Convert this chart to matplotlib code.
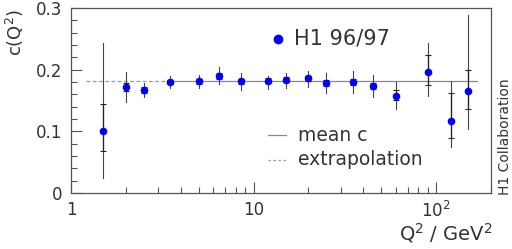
import matplotlib.pyplot as plt

plt.rcParams['font.family'] = ['DejaVu Sans']
plt.rcParams['mathtext.fontset'] = 'dejavusans'

# data
q2 = [1.5, 2.0, 2.5, 3.5, 5.0, 6.5, 8.5, 12, 15, 20, 25, 35, 45, 60, 90, 120, 150]
c = [0.100, 0.172, 0.167, 0.180, 0.181, 0.190, 0.181, 0.182, 0.184, 0.186,
     0.178, 0.180, 0.1735, 0.158, 0.197, 0.117, 0.166]
tot_hi = [0.243, 0.196, 0.179, 0.190, 0.192, 0.204, 0.195, 0.190, 0.195, 0.198,
          0.195, 0.198, 0.192, 0.180, 0.243, 0.182, 0.288]
tot_lo = [0.024, 0.148, 0.155, 0.171, 0.170, 0.176, 0.167, 0.169, 0.170, 0.172,
          0.162, 0.162, 0.155, 0.136, 0.157, 0.074, 0.104]
stat_hi = [0.145, 0.178, 0.172, 0.184, 0.185, 0.195, 0.185, 0.186, 0.188, 0.190,
           0.183, 0.185, 0.178, 0.167, 0.223, 0.162, 0.200]
stat_lo = [0.068, 0.165, 0.162, 0.176, 0.177, 0.185, 0.177, 0.178, 0.180, 0.182,
           0.173, 0.175, 0.169, 0.150, 0.175, 0.089, 0.137]
mean_c = 0.181

fig = plt.figure(figsize=(5.12, 2.49), dpi=100)
ax = fig.add_axes([0.1387, 0.2249, 0.8203, 0.743])

# mean value and extrapolation
ax.plot([3.5, 168], [mean_c, mean_c], color='#888888', lw=0.9)
ax.plot([1.21, 3.5], [mean_c, mean_c], color='#999999', lw=0.9, ls=(0, (3, 2)))

# error bars: total (thin line) and inner part (with caps)
for x, lo, hi in zip(q2, tot_lo, tot_hi):
    ax.plot([x, x], [lo, hi], color='#444444', lw=0.8)
ax.errorbar(q2, c, yerr=[[a - b for a, b in zip(c, stat_lo)],
                         [b - a for a, b in zip(c, stat_hi)]],
            fmt='none', ecolor='#222222', elinewidth=0.9, capsize=2.5, capthick=0.8)
ax.plot(q2, c, 'o', color='#0000ff', ms=4.5, mec='#0000ff', zorder=5)

ax.set_xscale('log')
ax.set_xlim(1, 200)
ax.set_ylim(0, 0.3)
ax.set_yticks([0, 0.1, 0.2, 0.3])
ax.set_yticklabels(['0', '0.1', '0.2', '0.3'])
ax.set_yticks([i * 0.02 for i in range(16)], minor=True)
ax.set_xticks([1, 10, 100])
ax.set_xticklabels(['1', '10', '10$^2$'])
ax.tick_params(which='both', direction='in', top=False, right=False,
               labelsize=12, labelcolor='#333333', color='#555555')
ax.tick_params(which='major', length=8, width=0.8, pad=6)
ax.tick_params(which='minor', length=4, width=0.8)
for s in ax.spines.values():
    s.set_color('#555555')
    s.set_linewidth(0.9)


def qpos(px):
    # pixel column in the picture -> Q2 value
    return 10 ** ((px - 71) / 182.5)


# legend-like labels
ax.plot([qpos(278)], [0.25], 'o', color='#0000ff', ms=6)
ax.text(qpos(294), 0.25, 'H1 96/97', fontsize=15, color='#333333', va='center')
ax.plot([qpos(268), qpos(286)], [0.094, 0.094], color='#888888', lw=0.9)
ax.text(qpos(298), 0.094, 'mean c', fontsize=13.5, color='#333333', va='center')
ax.plot([qpos(268), qpos(286)], [0.054, 0.054], color='#999999', lw=0.9,
        ls=(0, (2, 2)))
ax.text(qpos(298), 0.054, 'extrapolation', fontsize=13.5, color='#333333',
        va='center')

fig.text(0.03, 0.965, 'c(Q$^2$)', rotation=90, fontsize=13, color='#333333',
         ha='center', va='top')
fig.text(0.963, 0.015, 'Q$^2$ / GeV$^2$', fontsize=14, color='#333333',
         ha='right', va='bottom')
fig.text(0.986, 0.217, 'H1 Collaboration', rotation=90, fontsize=10,
         color='#333333', ha='center', va='bottom')

plt.savefig('out.png', dpi=100)
